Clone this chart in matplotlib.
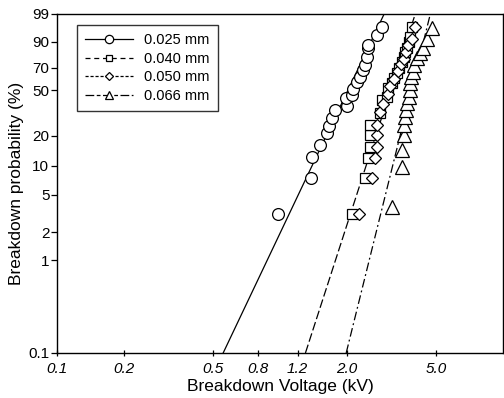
import numpy as np
import matplotlib
matplotlib.use("Agg")
import matplotlib.pyplot as plt
from matplotlib.lines import Line2D

plt.rcParams["font.family"] = ["Liberation Sans", "DejaVu Sans"]

# breakdown voltage (kV) and cumulative probability (%)
v_025 = [0.98, 1.37, 1.39, 1.51, 1.63, 1.66, 1.71, 1.77, 2.00, 1.98, 2.10,
         2.13, 2.22, 2.29, 2.35, 2.41, 2.46, 2.48, 2.49, 2.72, 2.86]
p_025 = [3.1, 7.5, 12.3, 16.2, 21.2, 24.7, 29.3, 34.5, 37.3, 43.4, 45.9,
         51.0, 57.2, 61.7, 68.1, 72.6, 79.4, 86.1, 88.1, 93.5, 96.4]

v_040 = [2.10, 2.41, 2.49, 2.54, 2.54, 2.54, 2.81, 2.86, 3.02, 3.06, 3.18,
         3.23, 3.34, 3.40, 3.52, 3.58, 3.64, 3.71, 3.77, 3.84, 3.90]
p_040 = [3.1, 7.5, 12.0, 15.6, 20.3, 25.3, 32.4, 41.9, 44.5, 51.8, 56.3,
         60.8, 65.4, 69.9, 75.2, 79.4, 83.3, 86.1, 89.9, 92.6, 96.4]

v_050 = [2.25, 2.58, 2.67, 2.72, 2.72, 2.72, 2.81, 2.91, 3.04, 3.12, 3.25,
         3.39, 3.50, 3.61, 3.68, 3.76, 3.90, 4.04]
p_050 = [3.1, 7.5, 12.0, 15.6, 20.3, 25.3, 33.0, 39.0, 47.0, 54.0, 60.0,
         67.0, 73.5, 78.0, 83.0, 88.0, 91.4, 96.4]

v_066 = [3.18, 3.52, 3.54, 3.58, 3.61, 3.64, 3.68, 3.71, 3.77, 3.81, 3.84,
         3.86, 3.95, 3.97, 4.11, 4.25, 4.37, 4.56, 4.80]
p_066 = [3.7, 9.8, 14.5, 20.3, 25.3, 30.1, 34.5, 39.5, 44.5, 50.1, 56.3,
         62.0, 66.6, 72.6, 78.3, 82.3, 85.9, 91.4, 96.1]

labels = ["0.025 mm", "0.040 mm", "0.050 mm", "0.066 mm"]

# fitted lines: voltage at 0.1 % and at 99 %
fit_p = [0.1, 99]
fit_025 = [0.556, 2.93]
fit_040 = [1.30, 4.04]
fit_066 = [1.98, 4.72]

xticks = [0.1, 0.2, 0.5, 0.8, 1.2, 2.0, 5.0]
xtick_labels = ["0.1", "0.2", "0.5", "0.8", "1.2", "2.0", "5.0"]
yticks = [0.1, 1, 2, 5, 10, 20, 50, 70, 90, 99]
ytick_labels = ["0.1", "1", "2", "5", "10", "20", "50", "70", "90", "99"]


def weibull(p):
    p = np.clip(np.asarray(p, dtype=float), 1e-6, 99.99999)
    return np.log(-np.log(1 - p / 100.0))


def weibull_inv(w):
    return 100.0 * (1 - np.exp(-np.exp(w)))


fig = plt.figure(figsize=(5.04, 3.98), dpi=100)
ax = fig.add_axes([0.1131, 0.1131, 0.885, 0.8518])
ax.set_xscale("log")
ax.set_yscale("function", functions=(weibull, weibull_inv))

# fit lines
ax.plot(fit_025, fit_p, color="k", lw=0.9, ls="-")
ax.plot(fit_040, fit_p, color="k", lw=0.9, ls=(0, (7, 2.5)))
ax.plot(fit_066, fit_p, color="k", lw=0.9, ls=(0, (7, 2.5, 1.5, 2.5)))

mk = dict(ls="none", color="k", mfc="white", mew=0.9)
ax.plot(v_025, p_025, marker="o", ms=8.5, **mk)
ax.plot(v_040, p_040, marker="s", ms=7, **mk)
ax.plot(v_050, p_050, marker="D", ms=6.5, **mk)
ax.plot(v_066, p_066, marker="^", ms=10, **mk)

ax.set_xlim(0.1, 10)
ax.set_ylim(0.1, 99)

ax.set_xticks(xticks)
ax.set_xticklabels(xtick_labels, fontstyle="italic")
ax.xaxis.set_minor_locator(plt.NullLocator())
ax.set_yticks(yticks)
ax.set_yticklabels(ytick_labels)
ax.yaxis.set_minor_locator(plt.NullLocator())
ax.tick_params(axis="x", direction="inout", length=5, width=0.9, labelsize=11, pad=4)
ax.tick_params(axis="y", direction="out", length=4, width=0.9, labelsize=11, pad=1.5)
for s in ax.spines.values():
    s.set_linewidth(1.0)

ax.set_xlabel("Breakdown Voltage (kV)", fontsize=12.5, labelpad=2)
ax.set_ylabel("Breakdown probability (%)", fontsize=12.5, labelpad=3)

handles = [
    Line2D([], [], color="k", lw=0.9, ls="-", marker="o", ms=6, mfc="white", mew=0.9),
    Line2D([], [], color="k", lw=0.9, ls=(0, (4, 3)), marker="s", ms=5, mfc="white", mew=0.9),
    Line2D([], [], color="k", lw=0.9, ls=(0, (2.5, 1.5)), marker="D", ms=4.5, mfc="white", mew=0.9),
    Line2D([], [], color="k", lw=0.9, ls=(0, (7, 2, 3, 2)), marker="^", ms=6, mfc="white", mew=0.9),
]
leg = ax.legend(handles, labels, loc="upper left", bbox_to_anchor=(0.044, 0.968),
                borderaxespad=0, fontsize=10.5, handlelength=3.3, handletextpad=0.8,
                labelspacing=0.33, fancybox=False, frameon=True, borderpad=0.55)
leg.get_frame().set_edgecolor("k")
leg.get_frame().set_linewidth(1.0)

fig.savefig("out.png", dpi=100)
